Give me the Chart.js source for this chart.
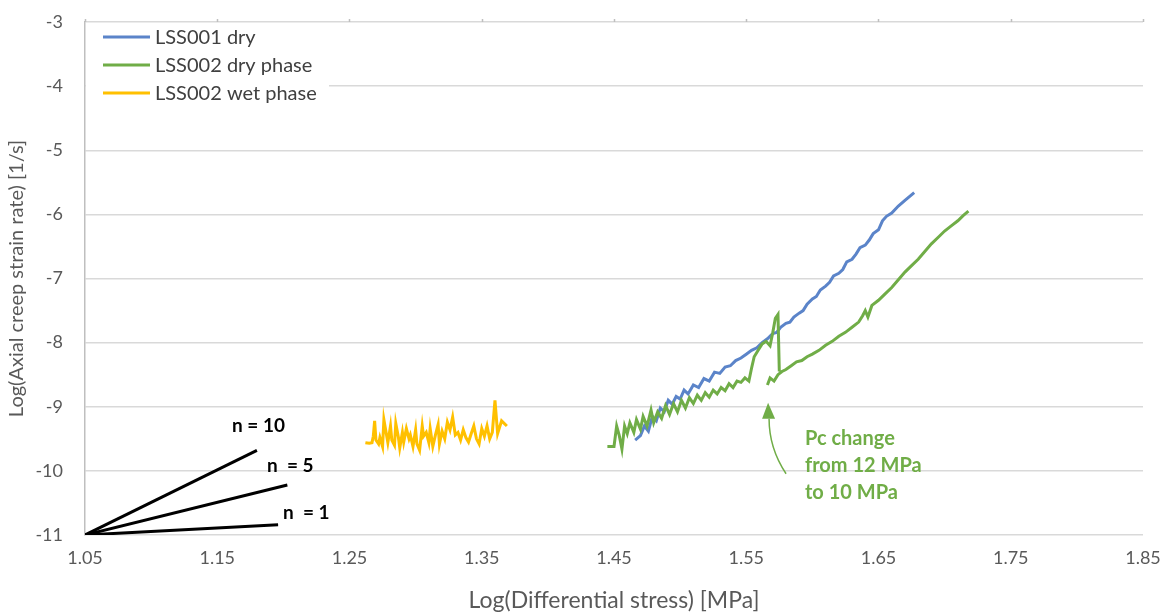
<!DOCTYPE html>
<html>
<head>
<meta charset="utf-8">
<script src="https://cdn.jsdelivr.net/npm/chart.js@4.4.0/dist/chart.umd.min.js"></script>
<style>
  html, body { margin: 0; padding: 0; background: #fff; }
  #wrap { width: 1168px; height: 615px; }
</style>
</head>
<body>
<div id="wrap"><canvas id="creepChart" width="1168" height="615"></canvas></div>
<script>
const ctx = document.getElementById('creepChart').getContext('2d');

// axis ticks
const xTicks = [1.05, 1.15, 1.25, 1.35, 1.45, 1.55, 1.65, 1.75, 1.85];
const yTicks = [-11, -10, -9, -8, -7, -6, -5, -4, -3];

// LSS001 dry
const dryX1 = [1.466, 1.470, 1.473, 1.476, 1.479, 1.482, 1.485, 1.488, 1.491, 1.494, 1.497, 1.500, 1.503, 1.506,
  1.510, 1.514, 1.518, 1.522, 1.526, 1.530, 1.534, 1.538, 1.542, 1.546, 1.550, 1.554, 1.558, 1.562, 1.566, 1.570,
  1.573, 1.576, 1.580, 1.583, 1.586, 1.590, 1.593, 1.596, 1.600, 1.603, 1.606, 1.610, 1.613, 1.616, 1.620, 1.623,
  1.626, 1.630, 1.633, 1.636, 1.640, 1.643, 1.646, 1.650, 1.653, 1.656, 1.660, 1.665, 1.670, 1.677];
const dryY1 = [-9.52, -9.45, -9.30, -9.38, -9.15, -9.22, -9.02, -9.08, -8.90, -8.96, -8.84, -8.88, -8.74, -8.80,
  -8.66, -8.70, -8.56, -8.60, -8.46, -8.48, -8.38, -8.36, -8.28, -8.24, -8.18, -8.12, -8.08, -8.00, -7.94, -7.86,
  -7.84, -7.76, -7.70, -7.68, -7.60, -7.54, -7.50, -7.40, -7.32, -7.28, -7.18, -7.12, -7.06, -6.96, -6.92, -6.86,
  -6.74, -6.70, -6.62, -6.52, -6.48, -6.40, -6.30, -6.24, -6.10, -6.03, -5.98, -5.87, -5.78, -5.66];

// LSS002 dry phase (null = break at the Pc change)
const dryX2 = [1.445, 1.450, 1.452, 1.454, 1.456, 1.458, 1.460, 1.462, 1.465, 1.467, 1.470, 1.472, 1.475, 1.478,
  1.480, 1.483, 1.486, 1.489, 1.492, 1.495, 1.498, 1.501, 1.504, 1.507, 1.510, 1.513, 1.516, 1.519, 1.522, 1.525,
  1.528, 1.531, 1.534, 1.537, 1.540, 1.543, 1.546, 1.549, 1.552, 1.554, 1.556, 1.559, 1.562, 1.565, 1.568, 1.570,
  1.572, 1.574, 1.575, null,
  1.566, 1.568, 1.571, 1.574, 1.577, 1.580, 1.584, 1.588, 1.592, 1.596, 1.600, 1.605, 1.610, 1.615, 1.620, 1.625,
  1.630, 1.635, 1.638, 1.640, 1.642, 1.645, 1.650, 1.655, 1.660, 1.665, 1.670, 1.675, 1.680, 1.685, 1.690, 1.695,
  1.700, 1.705, 1.710, 1.714, 1.718];
const dryY2 = [-9.62, -9.62, -9.30, -9.45, -9.66, -9.30, -9.42, -9.25, -9.40, -9.20, -9.35, -9.15, -9.30, -9.05,
  -9.25, -9.08, -9.18, -8.98, -9.12, -8.95, -9.08, -8.90, -9.02, -8.86, -8.95, -8.82, -8.90, -8.78, -8.85, -8.74,
  -8.80, -8.70, -8.75, -8.64, -8.70, -8.60, -8.62, -8.55, -8.60, -8.40, -8.22, -8.12, -8.02, -7.98, -8.05, -7.85,
  -7.62, -7.56, -8.45, null,
  -8.66, -8.55, -8.60, -8.50, -8.45, -8.42, -8.36, -8.30, -8.28, -8.22, -8.18, -8.12, -8.04, -7.98, -7.90, -7.84,
  -7.76, -7.68, -7.58, -7.50, -7.60, -7.42, -7.34, -7.24, -7.14, -7.02, -6.90, -6.80, -6.70, -6.58, -6.46, -6.36,
  -6.26, -6.18, -6.10, -6.02, -5.95];

// LSS002 wet phase
const wetX = [1.262, 1.265, 1.267, 1.268, 1.269, 1.270, 1.272, 1.273, 1.275, 1.276,
  1.278, 1.279, 1.281, 1.282, 1.284, 1.285, 1.287, 1.288, 1.290, 1.291,
  1.293, 1.295, 1.296, 1.298, 1.300, 1.301, 1.303, 1.305, 1.306, 1.308,
  1.310, 1.311, 1.313, 1.315, 1.317, 1.318, 1.320, 1.322, 1.324, 1.326,
  1.328, 1.330, 1.332, 1.334, 1.336, 1.338, 1.340, 1.342, 1.344, 1.346,
  1.348, 1.350, 1.352, 1.354, 1.356, 1.358, 1.360, 1.362, 1.365, 1.369];
const wetY = [-9.56, -9.57, -9.56, -9.46, -9.22, -9.52, -9.58, -9.48, -9.62, -9.20,
  -9.44, -9.56, -9.30, -9.52, -9.60, -9.26, -9.48, -9.64, -9.40, -9.55,
  -9.34, -9.50, -9.44, -9.62, -9.36, -9.58, -9.68, -9.30, -9.46, -9.40,
  -9.56, -9.34, -9.62, -9.44, -9.28, -9.58, -9.38, -9.50, -9.24, -9.36,
  -9.16, -9.44, -9.40, -9.52, -9.36, -9.48, -9.55, -9.42, -9.30, -9.50,
  -9.58, -9.34, -9.46, -9.30, -9.50, -9.40, -8.90, -9.42, -9.22, -9.30];

// stress exponent reference lines
const nLabels = ['n = 10', 'n  = 5', 'n  = 1'];
const nStart = [1.05, -11];
const nEndX = [1.18, 1.203, 1.196];
const nEndY = [-9.68, -10.22, -10.84];

const seriesNames = ['LSS001 dry', 'LSS002 dry phase', 'LSS002 wet phase'];
const seriesColors = ['#5b84c9', '#70ad47', '#ffc000'];

const FONT = 'Lato, "Liberation Sans", sans-serif';
const toPoints = (xs, ys) => xs.map((x, i) => ({ x: x, y: ys[i] }));

const datasets = [
  { label: seriesNames[0], data: toPoints(dryX1, dryY1), borderColor: seriesColors[0], borderWidth: 3, order: 2 },
  { label: seriesNames[1], data: toPoints(dryX2, dryY2), borderColor: seriesColors[1], borderWidth: 3, order: 1 },
  { label: seriesNames[2], data: toPoints(wetX, wetY), borderColor: seriesColors[2], borderWidth: 3, order: 3 }
];
nLabels.forEach((lab, i) => {
  datasets.push({
    label: lab,
    data: [{ x: nStart[0], y: nStart[1] }, { x: nEndX[i], y: nEndY[i] }],
    borderColor: '#000', borderWidth: 3, order: 0
  });
});

// legend box, n labels, Pc annotation, top tick marks
const extras = {
  id: 'extras',
  beforeDatasetsDraw(chart) {
    const c = chart.ctx, a = chart.chartArea;
    c.save();
    c.fillStyle = '#fff';
    c.fillRect(a.left + 1, a.top + 2, 243, 88);
    c.font = '20px ' + FONT;
    c.textBaseline = 'middle';
    seriesNames.forEach((name, i) => {
      const y = 37 + i * 28;
      c.strokeStyle = seriesColors[i];
      c.lineWidth = 3;
      c.beginPath();
      c.moveTo(103, y);
      c.lineTo(150, y);
      c.stroke();
      c.fillStyle = '#404040';
      c.fillText(name, 155, y + 1);
    });
    // small tick marks above the top line
    const xs = chart.scales.x;
    c.strokeStyle = '#bfbfbf';
    c.lineWidth = 1.5;
    xTicks.forEach(v => {
      const px = Math.round(xs.getPixelForValue(v)) + 0.5;
      c.beginPath();
      c.moveTo(px, a.top - 3);
      c.lineTo(px, a.top);
      c.stroke();
    });
    c.restore();
  },
  afterDraw(chart) {
    const c = chart.ctx;
    const xs = chart.scales.x, ys = chart.scales.y;
    c.save();
    c.font = 'bold 19px ' + FONT;
    c.fillStyle = '#000';
    c.textBaseline = 'middle';
    c.fillText(nLabels[0], 232, 426);
    c.fillText(nLabels[1], 267, 466);
    c.fillText(nLabels[2], 283, 513);

    // Pc change arrow
    const tx = xs.getPixelForValue(1.5665), ty = ys.getPixelForValue(-9.0);
    const green = seriesColors[1];
    c.strokeStyle = green;
    c.fillStyle = green;
    c.lineWidth = 1.5;
    c.beginPath();
    c.moveTo(tx + 18, ty + 67);
    c.bezierCurveTo(tx + 8, ty + 52, tx + 1, ty + 35, tx + 1, ty + 12);
    c.stroke();
    c.beginPath();
    c.moveTo(tx, ty - 4);
    c.lineTo(tx - 6, ty + 12);
    c.lineTo(tx + 7, ty + 12);
    c.closePath();
    c.fill();

    c.font = 'bold 20px ' + FONT;
    c.fillText('Pc change', 805, 439);
    c.fillText('from 12 MPa', 805, 466);
    c.fillText('to 10 MPa', 805, 493);
    c.restore();
  }
};

new Chart(ctx, {
  type: 'scatter',
  data: { datasets: datasets },
  options: {
    responsive: false,
    animation: false,
    showLine: true,
    spanGaps: false,
    elements: { point: { radius: 0, hoverRadius: 0 }, line: { tension: 0 } },
    layout: { padding: { left: 0, right: 25, top: 22, bottom: 0 } },
    plugins: {
      legend: { display: false },
      tooltip: { enabled: false }
    },
    scales: {
      x: {
        type: 'linear',
        min: 1.05,
        max: 1.85,
        afterBuildTicks: scale => { scale.ticks = xTicks.map(v => ({ value: v })); },
        afterFit: scale => { scale.height = 80; },
        grid: { display: false },
        border: { display: false },
        ticks: {
          color: '#595959',
          font: { family: FONT, size: 18 },
          padding: 4,
          maxRotation: 0,
          callback: v => v.toFixed(2)
        },
        title: {
          display: true,
          text: 'Log(Differential stress) [MPa]',
          color: '#595959',
          font: { family: FONT, size: 23 },
          padding: { top: 4, bottom: 1 }
        }
      },
      y: {
        min: -11,
        max: -3,
        afterBuildTicks: scale => { scale.ticks = yTicks.map(v => ({ value: v })); },
        afterFit: scale => {
          scale.width = 85;
          scale.paddingTop = 0;
          scale.paddingBottom = 0;
        },
        grid: { color: '#d9d9d9', lineWidth: 1.5, drawTicks: false },
        border: { display: true, color: '#bfbfbf', width: 1.5 },
        ticks: {
          color: '#595959',
          font: { family: FONT, size: 18 },
          padding: 22
        },
        title: {
          display: true,
          text: 'Log(Axial creep strain rate) [1/s]',
          color: '#595959',
          font: { family: FONT, size: 20 },
          padding: { top: 5, bottom: 4 }
        }
      }
    }
  },
  plugins: [extras]
});
</script>
</body>
</html>
